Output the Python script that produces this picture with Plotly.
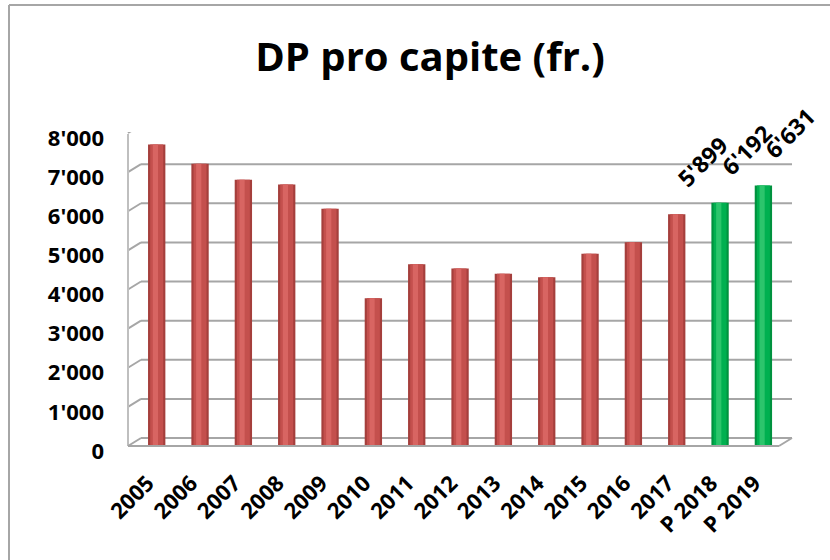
import plotly.graph_objects as go

categories = ["2005", "2006", "2007", "2008", "2009", "2010", "2011", "2012",
              "2013", "2014", "2015", "2016", "2017", "P 2018", "P 2019"]
values = [7680, 7190, 6780, 6660, 6040, 3750, 4620, 4510,
          4380, 4290, 4890, 5180, 5899, 6192, 6631]
labelled = ["2017", "P 2018", "P 2019"]
y_ticks = [0, 1000, 2000, 3000, 4000, 5000, 6000, 7000, 8000]

FONT = "Open Sans, Lato, sans-serif"
W, H = 830, 560
L, R, T, B = 132, 792, 132, 445  # plot area in pixels
GRID = "#A6A6A6"

def is_proj(c):
    return c.startswith("P ")

edge = ["#00923F" if is_proj(c) else "#A53F3C" for c in categories]
mid = ["#00B050" if is_proj(c) else "#C4504D" for c in categories]
hi = ["#2CC56C" if is_proj(c) else "#D86562" for c in categories]

fig = go.Figure()
fig.add_bar(x=categories, y=values, width=0.40, marker=dict(color=edge, line=dict(width=0)), hoverinfo="skip")
fig.add_bar(x=categories, y=values, width=0.30, marker=dict(color=mid, line=dict(width=0)), hoverinfo="skip")
fig.add_bar(x=categories, y=values, width=0.12, offset=-0.09, marker=dict(color=hi, line=dict(width=0)), hoverinfo="skip")

for i, (c, v) in enumerate(zip(categories, values)):
    if c in labelled:
        fig.add_annotation(x=i, y=v, text=f"{v:,}".replace(",", "'"), showarrow=False,
                           textangle=-45, xanchor="left", yanchor="bottom",
                           xshift=-9, yshift=18,
                           font=dict(family=FONT, size=23, color="#000000", weight="bold"))

def px_x(p):
    return (p - L) / (R - L)

def px_y(p):
    return (B - p) / (B - T)

# back-wall gridlines (offset up/right like the 3-D wall) and left-wall diagonals
for v in y_ticks:
    fig.add_shape(type="line", xref="paper", yref="y", ysizemode="pixel", yanchor=v,
                  x0=px_x(141), x1=px_x(792), y0=7, y1=7, layer="below",
                  line=dict(color=GRID, width=2))
    if v > 0:
        fig.add_shape(type="line", xref="paper", yref="y", ysizemode="pixel", yanchor=v,
                      x0=px_x(128), x1=px_x(141), y0=-1, y1=7, layer="below",
                      line=dict(color=GRID, width=2))
# left wall front edge
fig.add_shape(type="line", xref="paper", yref="paper", x0=px_x(128), x1=px_x(128),
              y0=px_y(446), y1=px_y(134), layer="below", line=dict(color="#BFBFBF", width=2))
# floor front edge + diagonals
fig.add_shape(type="line", xref="paper", yref="paper", x0=px_x(128), x1=px_x(779),
              y0=px_y(446), y1=px_y(446), layer="below", line=dict(color=GRID, width=2))
fig.add_shape(type="line", xref="paper", yref="paper", x0=px_x(779), x1=px_x(792),
              y0=px_y(446), y1=px_y(438), layer="below", line=dict(color=GRID, width=2))
fig.add_shape(type="line", xref="paper", yref="paper", x0=px_x(128), x1=px_x(141),
              y0=px_y(446), y1=px_y(438), layer="below", line=dict(color=GRID, width=2))

# chart-area border (left and top edges)
fig.add_shape(type="line", xref="paper", yref="paper", x0=px_x(9), x1=px_x(9), y0=px_y(5), y1=px_y(562),
              line=dict(color="#A6A6A6", width=2))
fig.add_shape(type="line", xref="paper", yref="paper", x0=px_x(9), x1=px_x(832), y0=px_y(5), y1=px_y(5),
              line=dict(color="#A6A6A6", width=2))

fig.update_layout(
    width=W, height=H,
    margin=dict(l=L, r=W - R, t=T, b=H - B, pad=0),
    paper_bgcolor="white", plot_bgcolor="white",
    barmode="overlay",
    showlegend=False,
    separators=".'",
    title=dict(text="DP pro capite (fr.)", x=430 / W, xanchor="center", y=1 - 57 / H, yanchor="middle",
               font=dict(family=FONT, size=40, color="#000000", weight="bold")),
    xaxis=dict(type="category", range=[-0.57, 14.66], tickangle=-45, showgrid=False,
               showline=False, zeroline=False, ticks="",
               tickfont=dict(family=FONT, size=22, color="#000000", weight="bold"),
               ticklabelstandoff=20, ticklabelshift=-9),
    yaxis=dict(range=[0, 8000], tickvals=y_ticks, tickformat=",d", showgrid=False,
               zeroline=False, showline=False, ticks="",
               tickfont=dict(family=FONT, size=22, color="#000000", weight="bold"),
               ticklabelstandoff=27, ticklabelshift=6),
)

fig.write_html("out.html", config={"displayModeBar": False},
               post_script="document.body.style.margin='0';")
